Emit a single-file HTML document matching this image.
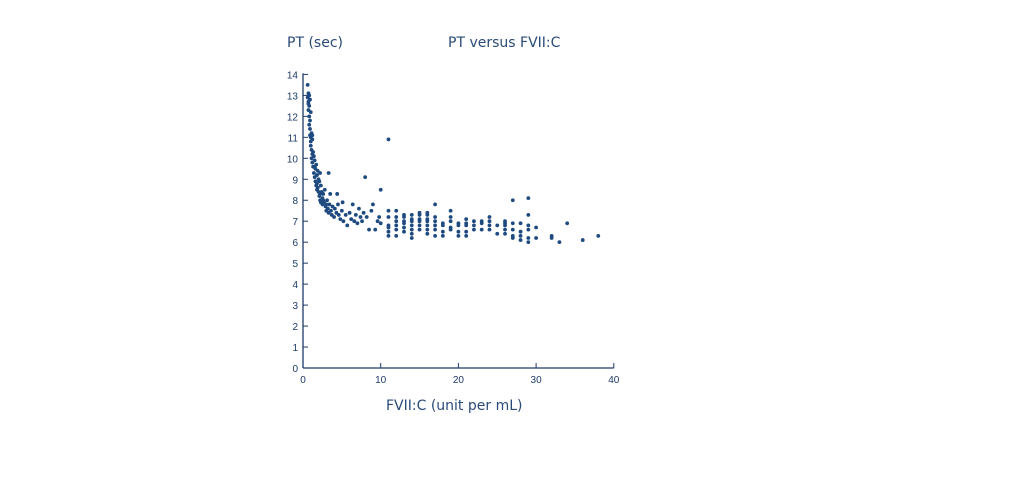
<!DOCTYPE html>
<html><head><meta charset="utf-8"><style>
html,body{margin:0;padding:0;background:#fff;width:1016px;height:489px;overflow:hidden}
svg{display:block}
.tk{font-family:"Liberation Sans",sans-serif;font-size:10px;fill:#1d3a66}
.tt{font-family:"DejaVu Sans","Liberation Sans",sans-serif;font-size:14px;fill:#2a4a78}
</style></head><body>
<svg id="chart" width="1016" height="489" viewBox="0 0 1016 489">
<text class="tt" x="287" y="47">PT (sec)</text>
<text class="tt" x="448" y="47">PT versus FVII:C</text>
<text class="tt" x="386" y="410">FVII:C (unit per mL)</text>
<g id="axes"></g>
<g id="pts"></g>
</svg>
<script>
const xTicks=[0,10,20,30,40];
const yTicks=[0,1,2,3,4,5,6,7,8,9,10,11,12,13,14];
const ptsX=[
0.6,0.6,0.7,0.7,0.7,0.8,0.8,0.8,0.9,0.9,0.9,1.0,1.0,1.0,1.1,1.1,1.2,1.2,0.7,0.8,0.9,1.0,1.1,1.2,1.3,1.3,1.4,1.4,1.5,1.5,1.6,1.6,1.7,1.7,1.8,1.8,1.9,1.9,2.0,2.0,2.1,2.1,2.2,2.2,2.3,2.3,2.4,2.5,2.5,2.6,2.7,2.8,2.9,3.0,3.0,3.1,3.2,3.3,3.4,3.5,3.6,3.7,3.8,4.0,4.1,4.3,4.5,4.6,4.8,5.0,5.2,5.5,5.7,6.0,6.2,6.4,6.6,6.8,7.0,7.2,7.4,7.6,7.8,8.0,8.2,8.5,8.8,9.0,9.3,9.6,9.8,10.0,10.0,1.5,1.8,2.2,1.2,2.6,3.3,4.4,5.1,
11,11,11,11,11,11,11,12,12,12,12,12,12,13,13,13,13,13,13,14,14,14,14,14,14,14,15,15,15,15,15,15,16,16,16,16,16,16,16,17,17,17,17,17,17,18,18,18,18,19,19,19,19,19,20,20,20,20,21,21,21,21,21,22,22,22,23,23,23,24,24,24,24,25,25,26,26,26,26,26,27,27,27,27,27,28,28,28,28,29,29,29,29,29,29,30,30,32,32,33,34,36,38];
const ptsY=[
13.5,12.9,13.1,12.7,12.3,13.0,12.5,12.0,12.8,11.8,11.4,12.2,11.0,10.6,11.2,10.4,10.9,10.2,12.6,11.6,11.1,10.8,10.0,9.8,10.3,9.6,10.1,9.3,9.9,9.1,9.5,8.9,9.7,8.7,9.2,8.5,9.4,8.6,9.0,8.4,8.9,8.2,9.3,8.0,8.7,7.9,8.4,8.1,7.8,8.3,7.9,8.5,7.7,7.8,7.5,8.0,7.6,7.4,7.8,8.3,7.5,7.3,7.7,7.2,7.6,7.4,7.8,7.3,7.1,7.5,7.0,7.3,6.8,7.4,7.1,7.8,7.0,7.3,6.9,7.6,7.2,7.0,7.4,9.1,7.2,6.6,7.5,7.8,6.6,7.0,7.2,8.5,6.9,9.6,8.8,8.3,11.1,8.0,9.3,8.3,7.9,
10.9,7.5,7.2,6.8,6.7,6.5,6.3,7.5,7.2,7.0,6.8,6.6,6.3,7.3,7.2,7.0,6.9,6.7,6.5,7.3,7.1,7.0,6.8,6.6,6.4,6.2,7.4,7.3,7.1,7.0,6.8,6.6,7.4,7.3,7.1,7.0,6.8,6.6,6.4,7.8,7.2,7.0,6.8,6.6,6.3,6.9,6.8,6.5,6.3,7.5,7.2,7.0,6.7,6.6,6.9,6.8,6.5,6.3,7.1,6.9,6.8,6.5,6.3,7.0,6.8,6.6,7.0,6.9,6.6,7.2,7.0,6.8,6.6,6.8,6.4,7.0,6.9,6.8,6.6,6.4,8.0,6.9,6.6,6.3,6.2,6.9,6.5,6.3,6.1,8.1,7.3,6.8,6.6,6.2,6.0,6.7,6.2,6.3,6.2,6.0,6.9,6.1,6.3];
const X0=303,XS=7.77,Y0=368,YS=20.97;
const sx=v=>X0+v*XS, sy=v=>Y0-v*YS;
const NS="http://www.w3.org/2000/svg";
const ax=document.getElementById('axes');
function mk(t,a,p){const e=document.createElementNS(NS,t);for(const k in a)e.setAttribute(k,a[k]);p.appendChild(e);return e;}
const xl=mk('line',{x1:sx(0),y1:sy(0),x2:sx(40),y2:sy(0),stroke:'#1d3a66','stroke-width':1.3},ax);


const yl=mk('line',{x1:sx(0),y1:sy(0),x2:sx(0),y2:sy(14)-1,stroke:'#1d3a66','stroke-width':1.3},ax);


xTicks.forEach(v=>{
 mk('line',{x1:sx(v),y1:sy(0),x2:sx(v),y2:sy(0)-5,stroke:'#1d3a66','stroke-width':1},ax);
 const t=mk('text',{x:sx(v),y:sy(0)+15,'text-anchor':'middle',class:'tk'},ax);t.textContent=v;
 
 
});
yTicks.forEach(v=>{
 mk('line',{x1:sx(0),y1:sy(v),x2:sx(0)+5,y2:sy(v),stroke:'#1d3a66','stroke-width':1},ax);
 const t=mk('text',{x:sx(0)-5,y:sy(v)+4,'text-anchor':'end',class:'tk'},ax);t.textContent=v;
 
 
});
const pg=document.getElementById('pts');
ptsX.forEach((x,i)=>{
 const c=mk('circle',{cx:sx(x),cy:sy(ptsY[i]),r:1.9,fill:'#1f4a80'},pg);
 
 
});
</script>
</body></html>
